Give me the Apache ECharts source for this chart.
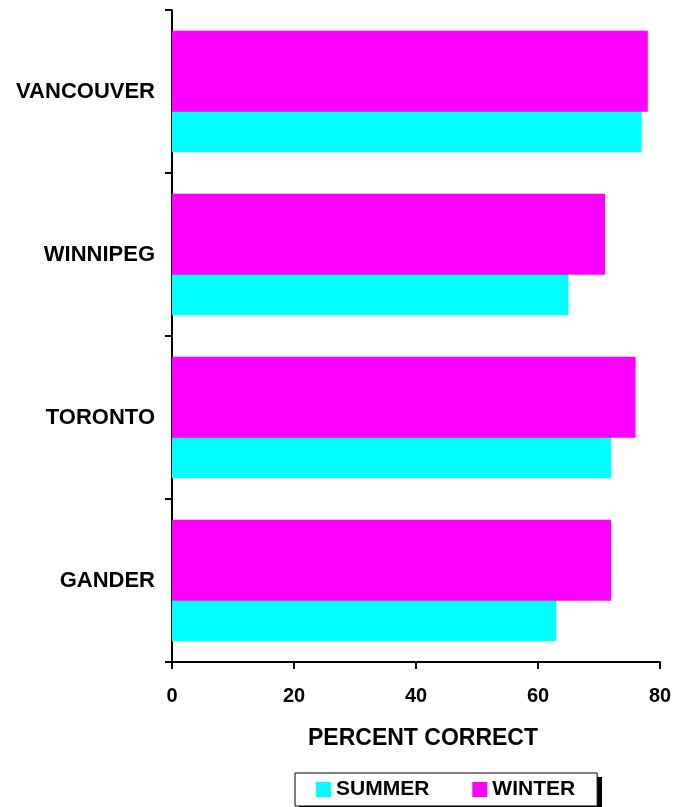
<!DOCTYPE html>
<html>
<head>
<meta charset="utf-8">
<script src="https://cdn.jsdelivr.net/npm/echarts@6/dist/echarts.min.js"></script>
<style>
  html, body { margin: 0; padding: 0; background: #fff; }
  #chart { width: 682px; height: 807px; }
</style>
</head>
<body>
<div id="chart"></div>
<script>
// Cities, bottom to top on the category axis
const cities = ['GANDER', 'TORONTO', 'WINNIPEG', 'VANCOUVER'];
// Percent correct by season
const summer = [63, 72, 65, 77];
const winter = [72, 76, 71, 78];
const xTicks = { min: 0, max: 80, step: 20 };

const FONT = '"Liberation Sans", Arial, sans-serif';
const chart = echarts.init(document.getElementById('chart'), null, { renderer: 'canvas' });

chart.setOption({
  animation: false,
  backgroundColor: '#fff',
  textStyle: { fontFamily: FONT },
  grid: { left: 172, right: 22, top: 10, bottom: 145, containLabel: false },
  // solid drop shadow behind the legend box
  graphic: [{
    type: 'rect',
    z: 1,
    silent: true,
    shape: { x: 299, y: 777, width: 303, height: 32 },
    style: { fill: '#000' }
  }],
  legend: {
    left: 295,
    top: 773,
    z: 5,
    data: ['SUMMER', 'WINTER'],
    icon: 'rect',
    itemWidth: 15,
    itemHeight: 15,
    itemGap: 43,
    padding: [6, 22, 6, 21],
    borderColor: '#000',
    borderWidth: 1,
    backgroundColor: '#fff',
    textStyle: { fontFamily: FONT, fontWeight: 'bold', fontSize: 21, color: '#000' }
  },
  xAxis: {
    type: 'value',
    min: xTicks.min,
    max: xTicks.max,
    interval: xTicks.step,
    name: 'PERCENT CORRECT',
    nameLocation: 'middle',
    nameGap: 65,
    nameTextStyle: { fontFamily: FONT, fontWeight: 'bold', fontSize: 23, color: '#000', padding: [0, 0, 0, 14] },
    axisLine: { show: true, lineStyle: { color: '#000', width: 2 } },
    axisTick: { show: true, inside: false, length: 7, lineStyle: { color: '#000', width: 2 } },
    axisLabel: { show: true, margin: 24, fontFamily: FONT, fontWeight: 'bold', fontSize: 20, color: '#000' },
    splitLine: { show: false }
  },
  yAxis: {
    type: 'category',
    data: cities,
    axisLine: { show: true, lineStyle: { color: '#000', width: 2 } },
    axisTick: { show: true, inside: false, alignWithLabel: false, length: 7, lineStyle: { color: '#000', width: 2 } },
    axisLabel: { show: true, margin: 17, padding: [4, 0, 0, 0], fontFamily: FONT, fontWeight: 'bold', fontSize: 22, color: '#000' },
    splitLine: { show: false }
  },
  series: [
    {
      name: 'WINTER',
      type: 'bar',
      data: winter,
      barWidth: 81,
      barGap: '-50%',
      z: 3,
      itemStyle: { color: '#FF00FF' }
    },
    {
      name: 'SUMMER',
      type: 'bar',
      data: summer,
      barWidth: 81,
      barGap: '-50%',
      z: 2,
      itemStyle: { color: '#00FFFF' }
    }
  ]
});
</script>
</body>
</html>
